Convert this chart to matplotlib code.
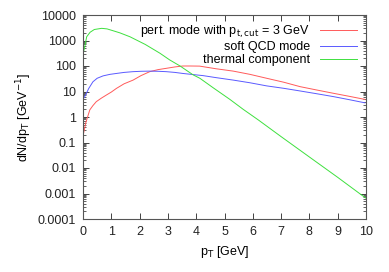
import matplotlib
matplotlib.use("Agg")
import matplotlib.pyplot as plt
import numpy as np
from matplotlib.ticker import LogLocator, FixedLocator, NullFormatter

plt.rcParams['font.family'] = ['Liberation Sans', 'DejaVu Sans']

# thermal component
x_th = [0.0, 0.05, 0.13, 0.25, 0.4, 0.66, 0.85, 1.07, 1.3, 1.66, 2.2, 2.72, 3.06, 3.43, 3.89, 4.13, 4.6, 5.19, 5.66, 6.2, 7.0, 8.0, 9.0, 10.0]
y_th = [300, 490, 1400, 2100, 2700, 3000, 2850, 2400, 2000, 1400, 700, 316, 174, 100, 45, 33, 14, 4.9, 2.0, 0.76, 0.17, 0.027, 0.0043, 0.00065]

# pert. mode with pt,cut = 3 GeV
x_pt = [0.02, 0.1, 0.24, 0.35, 0.47, 0.65, 0.82, 1.0, 1.18, 1.45, 1.77, 2.05, 2.36, 2.65, 2.94, 3.25, 3.53, 3.8, 4.12, 4.7, 5.31, 5.9, 6.49, 7.1, 7.67, 8.25, 8.85, 9.4, 9.96]
y_pt = [0.23, 0.6, 1.9, 2.8, 4.0, 5.5, 7.2, 9.5, 13.2, 20, 28, 42, 60, 72, 81, 92, 100, 100, 99, 78, 63, 47, 33, 23, 15.5, 11.5, 8.5, 6.5, 4.9]

# soft QCD mode
x_sq = [0.0, 0.05, 0.12, 0.2, 0.35, 0.5, 0.71, 0.95, 1.18, 1.45, 1.77, 2.05, 2.36, 2.65, 2.94, 3.25, 3.53, 3.9, 4.24, 4.7, 5.31, 5.9, 6.49, 7.1, 7.67, 8.25, 8.85, 9.4, 9.96]
y_sq = [4.9, 6.0, 8.5, 13, 24, 33, 41, 47, 51, 56, 60, 62, 63, 62, 60, 56, 51, 46, 42, 35, 28, 22, 16.6, 13.3, 10.5, 8.2, 6.3, 4.8, 3.6]

labels = ['pert. mode with p$_{\\mathrm{t,cut}}$ = 3 GeV', 'soft QCD mode', 'thermal component']
colors = ['#ff5a5a', '#5a5aff', '#3ee03e']

fig = plt.figure(figsize=(3.89, 2.72), dpi=100)
ax = fig.add_axes([83/389, 1 - 219/272, (366-83)/389, (219-15)/272])

ax.plot(x_pt, y_pt, color=colors[0], lw=0.7, label=labels[0])
ax.plot(x_sq, y_sq, color=colors[1], lw=0.7, label=labels[1])
ax.plot(x_th, y_th, color=colors[2], lw=0.7, label=labels[2])

ax.set_yscale('log')
ax.set_xlim(0, 10)
ax.set_ylim(1e-4, 1e4)
ax.set_xticks(range(0, 11))
ytks = [1e-4, 1e-3, 1e-2, 1e-1, 1, 10, 100, 1000, 10000]
ax.yaxis.set_major_locator(FixedLocator(ytks))
ax.set_yticklabels(['0.0001', '0.001', '0.01', '0.1', '1', '10', '100', '1000', '10000'])
ax.yaxis.set_minor_locator(LogLocator(base=10, subs=np.arange(2, 10), numticks=100))
ax.yaxis.set_minor_formatter(NullFormatter())

ax.tick_params(which='both', direction='in', top=True, right=True, labelsize=9, colors='#222222', pad=5)
ax.tick_params(which='major', length=4, width=0.6)
ax.tick_params(which='minor', length=2, width=0.5)
for s in ax.spines.values():
    s.set_color('#555555')
    s.set_linewidth(0.8)

ax.set_xlabel('p$_\\mathrm{T}$ [GeV]', fontsize=9, labelpad=4)
ax.set_ylabel('dN/dp$_\\mathrm{T}$ [GeV$^{-1}$]', fontsize=9, labelpad=3)

ax.legend(loc='upper right', markerfirst=False, frameon=False, fontsize=9,
          handlelength=3.0, handletextpad=0.8, labelspacing=0.1, borderaxespad=0.3)

fig.savefig('out.png', dpi=100)
